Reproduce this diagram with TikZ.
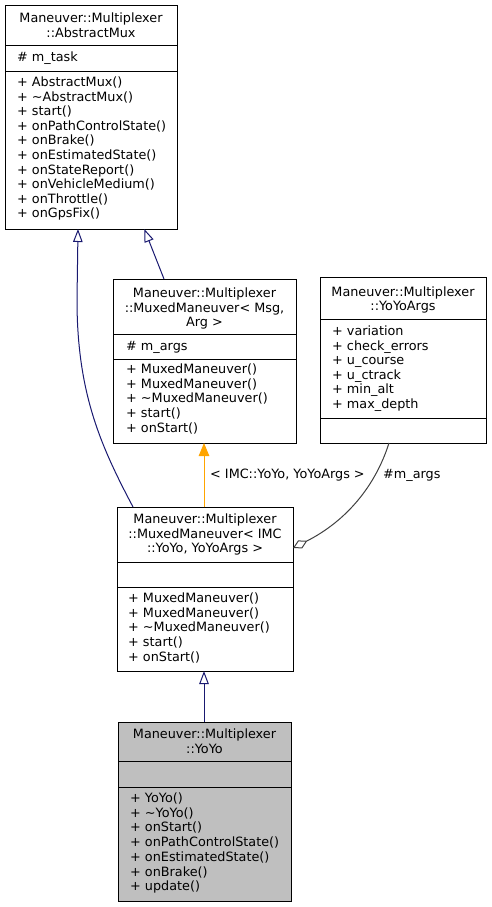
\documentclass[tikz,border=0pt]{standalone}
\usepackage{fontspec}
\setmainfont{DejaVu Sans}
\usetikzlibrary{arrows.meta}
\definecolor{navy}{HTML}{191970}
\definecolor{orng}{HTML}{FFA500}
\definecolor{aggc}{HTML}{404040}
\definecolor{sel}{HTML}{BFBFBF}
\begin{document}
\begin{tikzpicture}[x=1pt,y=-1pt,
  txt/.style={inner sep=0pt, font=\fontsize{12.8}{14.6}\selectfont},
  box/.style={draw=black, line width=1pt, inner sep=0pt, anchor=north west, fill=white},
  div/.style={draw=black, line width=1pt},
  inh/.style={draw=navy, line width=1pt, -{Triangle[open, length=13pt, width=9.5pt]}},
  tmpl/.style={draw=orng, line width=1pt, -{Triangle[length=13pt, width=10.5pt]}, fill=orng},
  agg/.style={draw=aggc, line width=1pt, {Diamond[open, length=16pt, width=9pt]}-}
]
\useasboundingbox (0,0) rectangle (492,907);

% ---------- AbstractMux ----------
\node[box, minimum width=172pt, minimum height=224pt] (amux) at (5,5) {};
\draw[div] (5,46) -- (177,46);
\draw[div] (5,71) -- (177,71);
\node[txt, anchor=base] (amt1) at (91,22.8) {Maneuver::Multiplexer};
\node[txt, anchor=base] (amt2) at (91,37.2) {::AbstractMux};
\node[txt, anchor=base west] (ama) at (17,61.5) {\# m\_task};
\foreach \t [count=\i from 0] in {{+ AbstractMux()},{+ \textasciitilde AbstractMux()},{+ start()},{+ onPathControlState()},{+ onBrake()},{+ onEstimatedState()},{+ onStateReport()},{+ onVehicleMedium()},{+ onThrottle()},{+ onGpsFix()}}
  \node[txt, anchor=base west] (amm\i) at (17,86.5+\i*14.6) {\t};

% ---------- MuxedManeuver< Msg, Arg > ----------
\node[box, minimum width=183pt, minimum height=164pt] (mm) at (113,279) {};
\draw[div] (113,334) -- (296,334);
\draw[div] (113,359) -- (296,359);
\node[txt, anchor=base] (mmt1) at (204.5,297.5) {Maneuver::Multiplexer};
\node[txt, anchor=base] (mmt2) at (204.5,312) {::MuxedManeuver< Msg,};
\node[txt, anchor=base] (mmt3) at (204.5,326.5) {Arg >};
\node[txt, anchor=base west] (mma) at (126,350.5) {\# m\_args};
\foreach \t [count=\i from 0] in {{+ MuxedManeuver()},{+ MuxedManeuver()},{+ \textasciitilde MuxedManeuver()},{+ start()},{+ onStart()}}
  \node[txt, anchor=base west] (mmm\i) at (126,373.5+\i*14.7) {\t};

% ---------- YoYoArgs ----------
\node[box, minimum width=166pt, minimum height=166pt] (ya) at (320,277) {};
\draw[div] (320,319) -- (486,319);
\draw[div] (320,418) -- (486,418);
\node[txt, anchor=base] (yat1) at (403,296.5) {Maneuver::Multiplexer};
\node[txt, anchor=base] (yat2) at (403,310.5) {::YoYoArgs};
\foreach \t [count=\i from 0] in {{+ variation},{+ check\_errors},{+ u\_course},{+ u\_ctrack},{+ min\_alt},{+ max\_depth}}
  \node[txt, anchor=base west] (yaa\i) at (332,335.5+\i*14.5) {\t};

% ---------- MuxedManeuver< IMC::YoYo, YoYoArgs > ----------
\node[box, minimum width=176pt, minimum height=164pt] (mi) at (117,507) {};
\draw[div] (117,562) -- (293,562);
\draw[div] (117,587) -- (293,587);
\node[txt, anchor=base] (mit1) at (205,523.5) {Maneuver::Multiplexer};
\node[txt, anchor=base] (mit2) at (205,538.5) {::MuxedManeuver< IMC};
\node[txt, anchor=base] (mit3) at (205,552.5) {::YoYo, YoYoArgs >};
\foreach \t [count=\i from 0] in {{+ MuxedManeuver()},{+ MuxedManeuver()},{+ \textasciitilde MuxedManeuver()},{+ start()},{+ onStart()}}
  \node[txt, anchor=base west] (mim\i) at (128,602.5+\i*14.7) {\t};

% ---------- YoYo ----------
\node[box, fill=sel, minimum width=173pt, minimum height=179pt] (yy) at (118,722) {};
\draw[div] (118,761.5) -- (291,761.5);
\draw[div] (118,787) -- (291,787);
\node[txt, anchor=base] (yyt1) at (204.5,738.5) {Maneuver::Multiplexer};
\node[txt, anchor=base] (yyt2) at (204.5,753.5) {::YoYo};
\foreach \t [count=\i from 0] in {{+ YoYo()},{+ \textasciitilde YoYo()},{+ onStart()},{+ onPathControlState()},{+ onEstimatedState()},{+ onBrake()},{+ update()}}
  \node[txt, anchor=base west] (yym\i) at (130,802.5+\i*14.7) {\t};

% ---------- connectors ----------
\coordinate (amL) at (78,229);
\coordinate (amR) at (144.3,229);
\coordinate (miTL) at (133,507);
\coordinate (mmT) at (164,279);
\coordinate (miT) at (204,507);
\coordinate (mmB) at (204,443);
\coordinate (yyT) at (204,722);
\coordinate (miB) at (204,671);
\coordinate (miR) at (293,548);
\coordinate (yaB) at (389,443);

\draw[inh] (miTL) .. controls (102,448) and (77,395) .. (77,300) -- (amL);
\draw[inh] (mmT) -- (amR);
\draw[tmpl] (miT) -- (mmB);
\draw[inh] (yyT) -- (miB);
\draw[agg] (miR) .. controls (346.5,521) and (375.5,485.75) .. (yaB);

\node[txt, anchor=base west] (lblT) at (210,478.5) {< IMC::YoYo, YoYoArgs >};
\node[txt, anchor=base west] (lblA) at (383,478.5) {\#m\_args};
\end{tikzpicture}
\end{document}
